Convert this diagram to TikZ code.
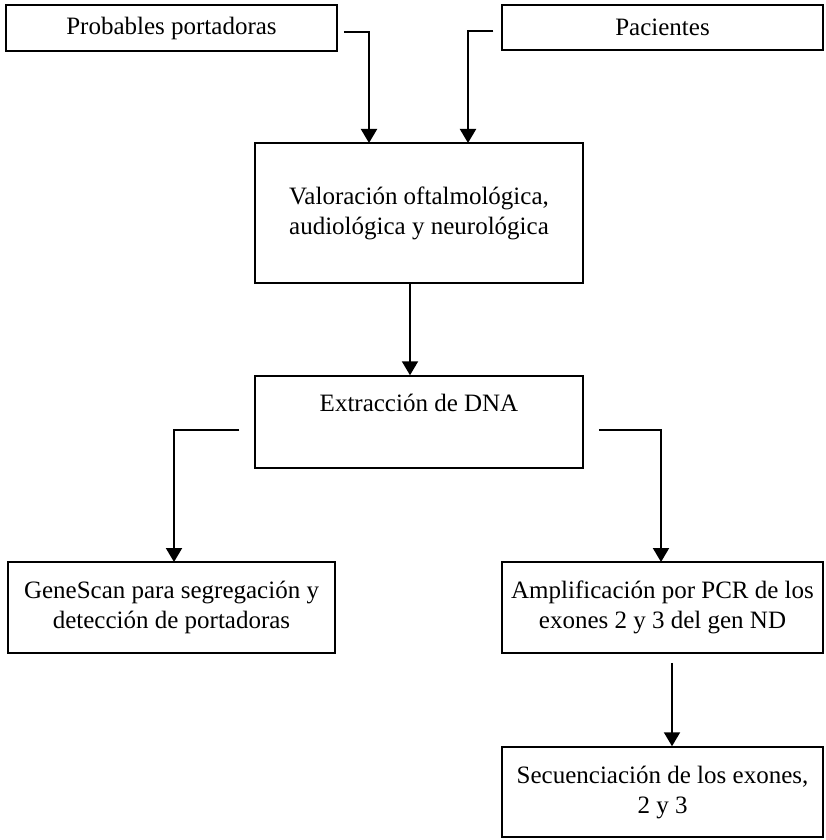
\documentclass[tikz,border=0pt]{standalone}
\usepackage{fontspec}
\setmainfont{Liberation Serif}
\usetikzlibrary{arrows.meta,calc}
\begin{document}
\begin{tikzpicture}[x=1pt,y=-1pt,
  box/.style={draw, line width=1.5pt, rectangle, inner sep=0pt, align=center,
    font=\fontsize{25}{30}\selectfont},
  conn/.style={line width=2pt, -{Triangle[width=16pt,length=14pt]}}]
\useasboundingbox[fill=white] (0,0) rectangle (825,840);
\node[box, minimum width=331pt, minimum height=46pt] (pp) at (171.5,28) {Probables portadoras};
\node[box, minimum width=321pt, minimum height=45pt] (pa) at (662.5,27.5) {Pacientes};
\node[box, minimum width=328pt, minimum height=140pt] (va) at (419,213) {Valoración oftalmológica,\\audiológica y neurológica};
\node[box, minimum width=328pt, minimum height=92pt] (ex) at (419,422) {Extracción de DNA\\[8pt]};
\node[box, minimum width=327pt, minimum height=91pt] (gs) at (171.5,607.5) {GeneScan para segregación y\\detección de portadoras};
\node[box, minimum width=321pt, minimum height=91pt] (am) at (662.5,607.5) {Amplificación por PCR de los\\exones 2 y 3 del gen ND};
\node[box, minimum width=321pt, minimum height=90pt] (se) at (662.5,792) {Secuenciación de los exones,\\2 y 3};
\coordinate (c1) at (369,143);
\coordinate (c2) at (468,143);
\coordinate (c3) at (174,562);
\coordinate (c4) at (661,562);
\draw[conn, shorten <=6pt] ([yshift=-4pt]pp.east) -| (c1);
\draw[conn, shorten <=8pt] ([yshift=-4pt]pa.west) -| (c2);
\draw[conn] ([xshift=-9pt]va.south) -- ([xshift=-9pt]ex.north);
\draw[conn, shorten <=15pt] ([yshift=-8pt]ex.west) -| (c3);
\draw[conn, shorten <=15pt] ([yshift=-8pt]ex.east) -| (c4);
\draw[conn, shorten <=9pt] ([xshift=9.5pt]am.south) -- ([xshift=9.5pt]se.north);
\end{tikzpicture}
\end{document}
